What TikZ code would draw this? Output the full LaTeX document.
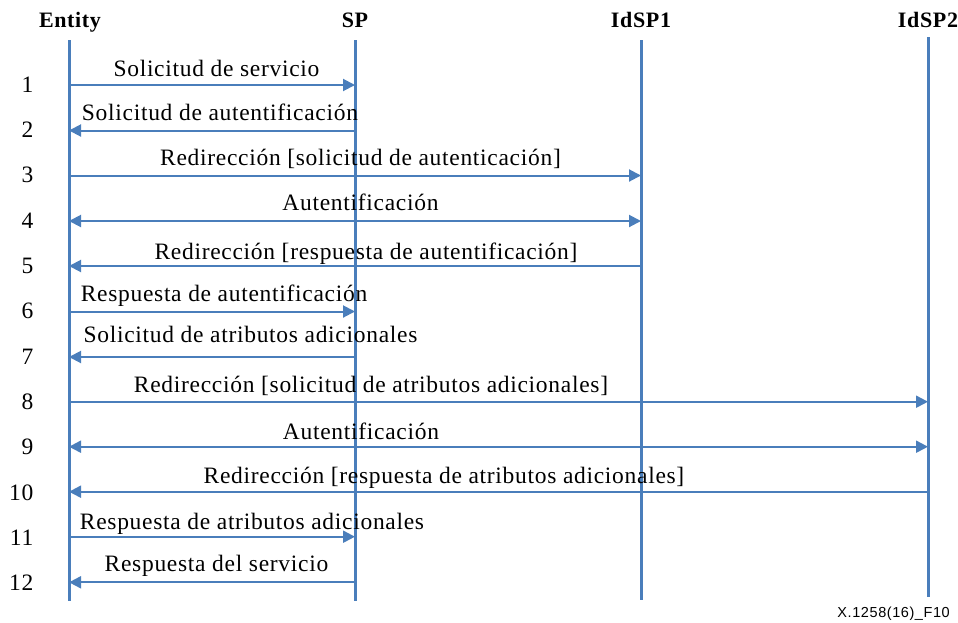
\documentclass[tikz,border=0pt]{standalone}
\usepackage{fontspec}
\setmainfont{Liberation Serif}
\newfontfamily\lblfont{Liberation Serif}[LetterSpace=3]
\newfontfamily\hdrfont{Liberation Serif}[LetterSpace=3]
\newfontfamily\notefont{Liberation Sans}[LetterSpace=4]
\usetikzlibrary{arrows.meta}
\definecolor{seqblue}{RGB}{74,126,187}
\begin{document}
\begin{tikzpicture}[x=1pt,y=-1pt,
  hdr/.style={font=\hdrfont\bfseries\fontsize{22}{26}\selectfont, anchor=base, inner sep=0pt},
  lbl/.style={font=\lblfont\fontsize{23.5}{28}\selectfont, anchor=base, inner sep=0pt},
  num/.style={font=\lblfont\fontsize{23.5}{28}\selectfont, anchor=base east, inner sep=0pt},
  life/.style={draw=seqblue, line width=3pt},
  msg/.style={draw=seqblue, line width=2pt},
  tipR/.style={-{Triangle[length=12pt,width=12pt]}},
  tipB/.style={{Triangle[length=12pt,width=12pt]}-{Triangle[length=12pt,width=12pt]}},
  note/.style={font=\notefont\fontsize{14.5}{16}\selectfont, anchor=base east, inner sep=0pt}
]
\useasboundingbox (0,0) rectangle (958,622);

% headers
\node[hdr] (hE) at (70,27) {Entity};
\node[hdr] (hS) at (355,27) {SP};
\node[hdr] (hI) at (641,27) {IdSP1};
\node[hdr] (hJ) at (928,27) {IdSP2};

% lifelines
\coordinate (Etop) at (69,40);   \coordinate (Ebot) at (69,600.5);
\coordinate (Stop) at (355,40);  \coordinate (Sbot) at (355,600.5);
\coordinate (Itop) at (641,40);  \coordinate (Ibot) at (641,600);
\coordinate (Jtop) at (928,37);  \coordinate (Jbot) at (928,596.5);
\draw[life] (Etop) -- (Ebot);
\draw[life] (Stop) -- (Sbot);
\draw[life] (Itop) -- (Ibot);
\draw[life] (Jtop) -- (Jbot);

% row coordinates
\foreach \i/\y in {1/85,2/130.5,3/175.5,4/221,5/266,6/311.5,7/357,8/401.7,9/446.7,10/491.7,11/536.7,12/582.3}{
  \coordinate (E\i) at (69,\y);
  \coordinate (S\i) at (355,\y);
  \coordinate (I\i) at (641,\y);
  \coordinate (J\i) at (928,\y);
}

% row numbers
\foreach \i in {1,...,12}{
  \pgfmathsetmacro\ny{92.3+(\i-1)*45.3}
  \node[num] (n\i) at (33.5,\ny) {\i};
}

% messages
\draw[msg,tipR] (E1) -- (S1);
\draw[msg,tipR] (S2) -- (E2);
\draw[msg,tipR] (E3) -- (I3);
\draw[msg,tipB] (E4) -- (I4);
\draw[msg,tipR] (I5) -- (E5);
\draw[msg,tipR] (E6) -- (S6);
\draw[msg,tipR] (S7) -- (E7);
\draw[msg,tipR] (E8) -- (J8);
\draw[msg,tipB] (E9) -- (J9);
\draw[msg,tipR] (J10) -- (E10);
\draw[msg,tipR] (E11) -- (S11);
\draw[msg,tipR] (S12) -- (E12);

% labels
\node[lbl] (l1)  at (216.5,76)   {Solicitud de servicio};
\node[lbl] (l2)  at (220,120)    {Solicitud de autentificación};
\node[lbl] (l3)  at (360.5,165.5) {Redirección [solicitud de autenticación]};
\node[lbl] (l4)  at (360.5,210)  {Autentificación};
\node[lbl] (l5)  at (366,259.3)  {Redirección [respuesta de autentificación]};
\node[lbl] (l6)  at (224,301.7)  {Respuesta de autentificación};
\node[lbl] (l7)  at (250.5,342.3) {Solicitud de atributos adicionales};
\node[lbl] (l8)  at (371,392.3)  {Redirección [solicitud de atributos adicionales]};
\node[lbl] (l9)  at (361,439.3)  {Autentificación};
\node[lbl] (l10) at (444,483.3)  {Redirección [respuesta de atributos adicionales]};
\node[lbl] (l11) at (252,529)    {Respuesta de atributos adicionales};
\node[lbl] (l12) at (216.5,571.7) {Respuesta del servicio};

\node[note] (fig) at (950,617) {X.1258(16)\_F10};
\end{tikzpicture}
\end{document}
